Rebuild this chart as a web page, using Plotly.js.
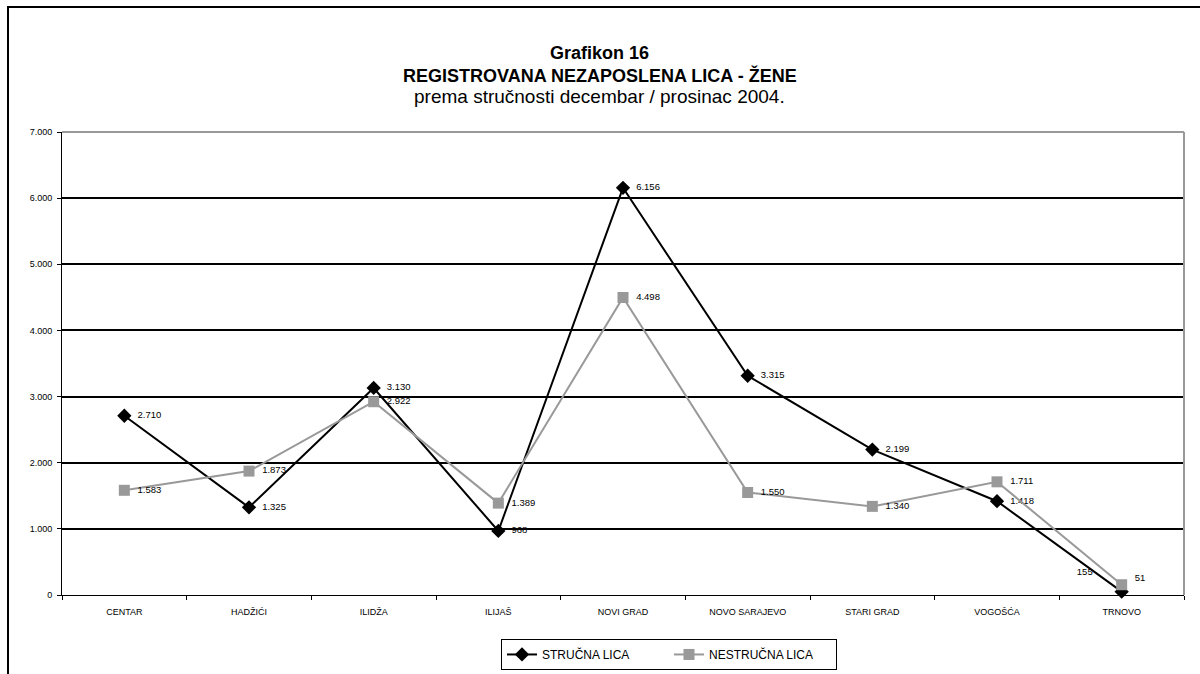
<!DOCTYPE html>
<html>
<head>
<meta charset="utf-8">
<script src="https://cdn.plot.ly/plotly-3.0.1.min.js"></script>
<style>
  html, body { margin: 0; padding: 0; background: #fff; overflow: hidden; }
  #frame { position: absolute; left: 7px; top: 6px; width: 1300px; height: 800px;
           border-top: 2px solid #000; border-left: 2px solid #000; }
  #chart { position: absolute; left: 0; top: 0; width: 1200px; height: 674px; }
</style>
</head>
<body>
<div id="frame"></div>
<div id="chart"></div>
<script>
const categories = ["CENTAR", "HADŽIĆI", "ILIDŽA", "ILIJAŠ", "NOVI GRAD", "NOVO SARAJEVO", "STARI GRAD", "VOGOŠĆA", "TRNOVO"];
const strucnaLica = [2710, 1325, 3130, 968, 6156, 3315, 2199, 1418, 51];
const nestrucnaLica = [1583, 1873, 2922, 1389, 4498, 1550, 1340, 1711, 155];
const yTicks = [0, 1000, 2000, 3000, 4000, 5000, 6000, 7000];
const yTickLabels = ["0", "1.000", "2.000", "3.000", "4.000", "5.000", "6.000", "7.000"];

function fmt(v) { return String(v).replace(/\B(?=(\d{3})+(?!\d))/g, "."); }

const font = "Liberation Sans, Arial, sans-serif";
const last = categories.length - 1;

const posStrucna = categories.map((c, i) => i === last ? "top right" : "middle right");
const posNestrucna = categories.map((c, i) => i === last ? "top left" : "middle right");
const txtStrucna = strucnaLica.map((v) => "\u00a0\u00a0" + fmt(v));
const txtNestrucna = nestrucnaLica.map((v, i) => i === last ? fmt(v) + "\u00a0\u00a0\u00a0\u00a0\u00a0\u00a0\u00a0\u00a0" : "\u00a0\u00a0" + fmt(v));

const traces = [
  {
    x: categories, y: strucnaLica, name: "STRUČNA LICA",
    type: "scatter", mode: "lines+markers+text",
    line: { color: "#000000", width: 2 },
    marker: { symbol: "diamond", size: 11, color: "#000000" },
    text: txtStrucna, textposition: posStrucna,
    textfont: { family: font, size: 9.5, color: "#000" },
    cliponaxis: false
  },
  {
    x: categories, y: nestrucnaLica, name: "NESTRUČNA LICA",
    type: "scatter", mode: "lines+markers+text",
    line: { color: "#999999", width: 2 },
    marker: { symbol: "square", size: 11, color: "#999999" },
    text: txtNestrucna, textposition: posNestrucna,
    textfont: { family: font, size: 9.5, color: "#000" },
    cliponaxis: false
  }
];

const layout = {
  width: 1200, height: 674,
  margin: { l: 62, r: 16, t: 132, b: 79 },
  paper_bgcolor: "rgba(0,0,0,0)", plot_bgcolor: "rgba(0,0,0,0)",
  font: { family: font, size: 9, color: "#000" },
  showlegend: true,
  legend: {
    orientation: "h", xref: "container", yref: "container",
    x: 0.5575, xanchor: "center", y: 0.006, yanchor: "bottom",
    bordercolor: "#000", borderwidth: 1, bgcolor: "#fff",
    font: { family: font, size: 12, color: "#000" },
    entrywidth: 122, entrywidthmode: "pixels",
    tracegroupgap: 0
  },
  xaxis: {
    type: "category", tickson: "boundaries",
    ticks: "outside", ticklen: 4, tickcolor: "#000",
    showline: true, linecolor: "#000", linewidth: 1,
    showgrid: false, zeroline: false,
    ticklabelstandoff: 8,
    tickfont: { family: font, size: 9, color: "#000" },
    range: [-0.5, 8.5]
  },
  yaxis: {
    range: [0, 7000], tickvals: yTicks, ticktext: yTickLabels,
    ticks: "outside", ticklen: 4, tickcolor: "#000",
    showline: true, linecolor: "#000", linewidth: 1,
    showgrid: true, gridcolor: "#000", gridwidth: 2, zeroline: false,
    ticklabelstandoff: 3,
    tickfont: { family: font, size: 9, color: "#000" }
  },
  shapes: [
    { type: "line", xref: "paper", yref: "paper", x0: 0, x1: 1, y0: 1, y1: 1, line: { color: "#999", width: 2 } },
    { type: "line", xref: "paper", yref: "paper", x0: 1, x1: 1, y0: 0, y1: 1, line: { color: "#999", width: 2 } }
  ],
  annotations: [
    { text: "<b>Grafikon 16</b>", xref: "paper", yref: "paper", x: 0.4795, y: 1.1706, yanchor: "middle", xanchor: "center", showarrow: false, font: { family: font, size: 18, color: "#000" } },
    { text: "<b>REGISTROVANA NEZAPOSLENA LICA - ŽENE</b>", xref: "paper", yref: "paper", x: 0.4795, y: 1.123, yanchor: "middle", xanchor: "center", showarrow: false, font: { family: font, size: 18, color: "#000" } },
    { text: "prema stručnosti decembar / prosinac 2004.", xref: "paper", yref: "paper", x: 0.4795, y: 1.0756, yanchor: "middle", xanchor: "center", showarrow: false, font: { family: font, size: 19, color: "#000" } }
  ]
};

Plotly.newPlot("chart", traces, layout, { displayModeBar: false, staticPlot: true });
</script>
</body>
</html>
